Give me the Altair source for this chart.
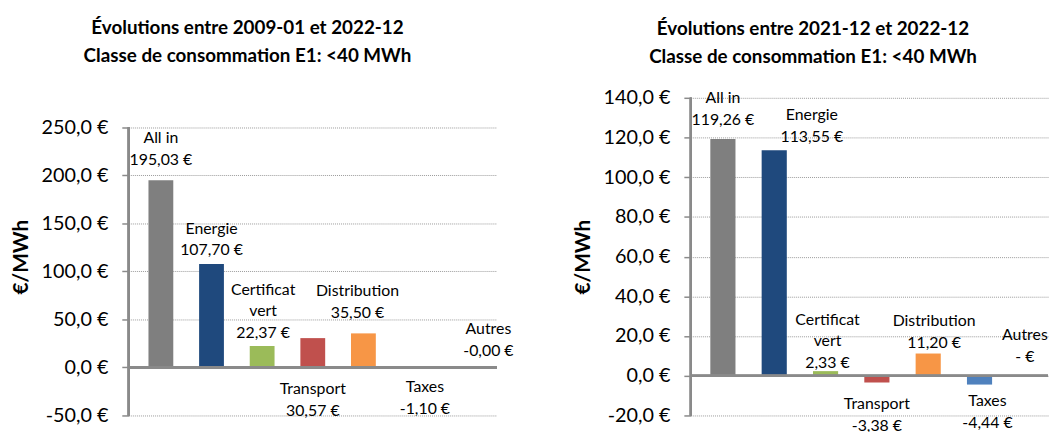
import altair as alt
import pandas as pd

# ---------------- data ----------------
categories = ["All in", "Energie", "Certificat vert", "Transport", "Distribution", "Taxes", "Autres"]
label_names = [["All in"], ["Energie"], ["Certificat", "vert"], ["Transport"], ["Distribution"], ["Taxes"], ["Autres"]]
values_2009 = [195.03, 107.70, 22.37, 30.57, 35.50, -1.10, -0.001]
values_2021 = [119.26, 113.55, 2.33, -3.38, 11.20, -4.44, 0.0]
bar_colors = ["#7f7f7f", "#1f497d", "#9bbb59", "#c0504d", "#f79646", "#4f81bd", "#4f81bd"]
title_2009 = ["Évolutions entre 2009-01 et 2022-12", "Classe de consommation E1: <40 MWh"]
title_2021 = ["Évolutions entre 2021-12 et 2022-12", "Classe de consommation E1: <40 MWh"]
ticks_2009 = [-50, 0, 50, 100, 150, 200, 250]
ticks_2021 = [-20, 0, 20, 40, 60, 80, 100, 120, 140]
# value (in €/MWh) at which the first line of each data label sits in the source chart
label_at_2009 = [238.7, 144.6, 81.1, -22.3, 79.3, -20.2, 39.9]
label_at_2021 = [140.0, 131.3, 28.3, -14.5, 27.6, -12.8, 20.5]

# ---------------- layout / style ----------------
FONT = "Lato"
LABEL_DX_2009 = [0, 0, 1, 0, -6, 11, 24]
LABEL_DX_2021 = [0, 38, 2, 0, 6, 8, -6]
GRID = "#9a9a9a"
AXIS = "#8a8a8a"
PLOT_H = 321


def euro(v):
    if v == 0:
        return "-   €"
    return f"{v:.2f}".replace(".", ",") + " €"


LABEL_EXPR = "replace(replace(format(datum.value, '.1f'), '.', ','), '\u2212', '-') + ' €'"


def panel(values, label_at, dx_list, ticks, scale_top, title, width,
          pad_outer, band_align, title_offset, title_dx):
    df = pd.DataFrame({"cat": categories, "value": values})
    lab = pd.DataFrame({
        "cat": categories,
        "at": label_at,
        "lines": [names + [euro(v)] for names, v in zip(label_names, values)],
    })
    x = alt.X("cat:N", sort=categories, axis=None,
              scale=alt.Scale(paddingInner=0.51, paddingOuter=pad_outer, align=band_align))
    yscale = alt.Scale(domain=[ticks[0], scale_top], nice=False, zero=False)
    yaxis = alt.Axis(
        values=ticks, labelExpr=LABEL_EXPR, title="€/MWh",
        titleFont=FONT, titleFontSize=21, titleFontWeight="bold", titleColor="#000",
        titlePadding=10,
        labelFont=FONT, labelFontSize=20, labelColor="#000", labelPadding=14,
        tickSize=7, tickColor=AXIS, tickWidth=1.5,
        domain=False,
        grid=True, gridColor=GRID, gridDash=[1, 1], gridWidth=1,
    )
    Y = lambda field: alt.Y(field, scale=yscale, axis=yaxis)
    bars = alt.Chart(df).mark_bar().encode(
        x=x,
        y=Y("value:Q"),
        color=alt.Color("cat:N", scale=alt.Scale(domain=categories, range=bar_colors), legend=None),
    )
    zero = alt.Chart(df).mark_rule(color=AXIS, strokeWidth=2).encode(
        y=alt.datum(0, scale=yscale, axis=yaxis))
    axis_line = alt.Chart(df).mark_rule(color=AXIS, strokeWidth=2).encode(
        x=alt.value(0),
        y=alt.datum(ticks[0], scale=yscale, axis=yaxis),
        y2=alt.datum(ticks[-1]),
    )
    layers = [bars, zero, axis_line]
    for i, c in enumerate(categories):
        t = alt.Chart(lab).transform_filter(alt.datum.cat == c).mark_text(
            font=FONT, fontSize=16, lineHeight=22, baseline="middle", align="center",
            dx=dx_list[i], color="#000",
        ).encode(
            x=x,
            y=Y("at:Q"),
            text="lines:N",
        )
        layers.append(t)
    return alt.layer(*layers).properties(
        width=width, height=PLOT_H,
        title=alt.TitleParams(
            text=title, font=FONT, fontSize=19, fontWeight="bold", color="#000",
            lineHeight=28, offset=title_offset, dx=title_dx, anchor="middle", frame="group",
        ),
    )


left = panel(values_2009, label_at_2009, LABEL_DX_2009, ticks_2009, 280.9, title_2009,
             372, 0.39, 0.5, 32.5, -66)
right = panel(values_2021, label_at_2021, LABEL_DX_2021, ticks_2021, 140, title_2021,
              361, 0.235, 0.81, 21.5, -57)

chart = alt.hconcat(left, right, spacing=59).properties(
    padding={"left": 2, "top": 8.5, "right": 0, "bottom": 0}
).configure_view(stroke=None)

chart.save("out.html", embed_options={"renderer": "svg", "actions": False})
